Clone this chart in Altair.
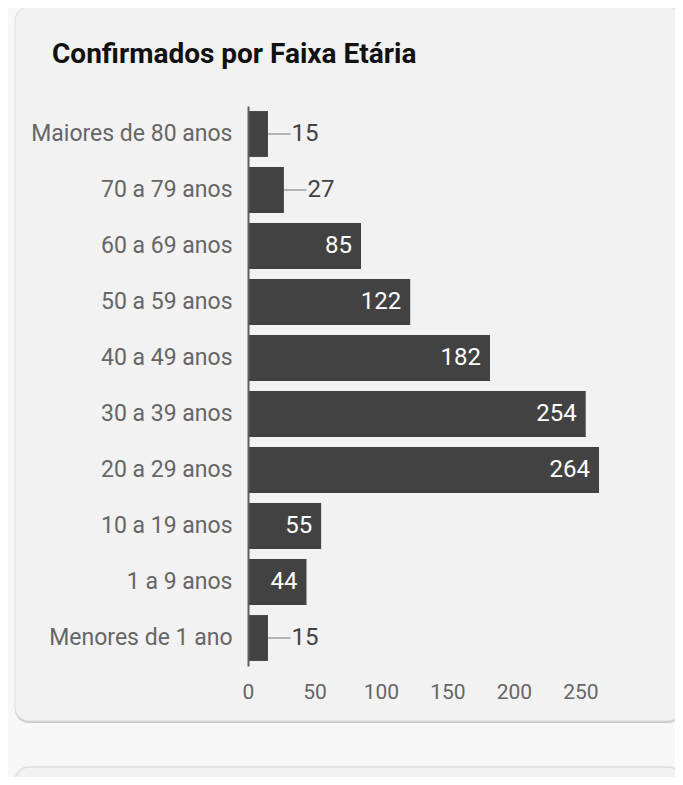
import altair as alt
import pandas as pd

categories = ["Maiores de 80 anos", "70 a 79 anos", "60 a 69 anos", "50 a 59 anos",
              "40 a 49 anos", "30 a 39 anos", "20 a 29 anos", "10 a 19 anos",
              "1 a 9 anos", "Menores de 1 ano"]
values = [15, 27, 85, 122, 182, 254, 264, 55, 44, 15]
x_ticks = [0, 50, 100, 150, 200, 250]
title_text = "Confirmados por Faixa Etária"

df = pd.DataFrame({"faixa": categories, "casos": values})
one = pd.DataFrame({"k": [0]})

FONT = "Roboto"
BAR = "#424242"

y_axis = alt.Axis(title=None, ticks=False, grid=False, domainColor="#5f5f5f",
                  domainWidth=2, labelPadding=16, labelFontSize=23, labelLimit=400,
                  labelColor="#666666", labelFont=FONT, zindex=1)
x_axis = alt.Axis(title=None, values=x_ticks, domain=False, ticks=False, grid=False,
                  labelPadding=15, labelFontSize=21, labelColor="#666666",
                  labelFont=FONT, labelFlush=False, zindex=1)

y_enc = alt.Y("faixa:N", sort=categories,
              scale=alt.Scale(paddingInner=0.18, paddingOuter=0.09), axis=y_axis)
x_enc = alt.X("casos:Q", scale=alt.Scale(domain=[0, 270], nice=False), axis=x_axis)

# decorative card background (pixel positions relative to plot area)
card_shadow = alt.Chart(one).mark_rect(fill="#c9c9c9", cornerRadius=14).encode(
    x=alt.value(-233), x2=alt.value(434), y=alt.value(-97), y2=alt.value(617))
card = alt.Chart(one).mark_rect(fill="#f2f2f2", stroke="#dddddd", strokeWidth=1,
                                cornerRadius=14).encode(
    x=alt.value(-233), x2=alt.value(434), y=alt.value(-99), y2=alt.value(615))
card2 = alt.Chart(one).mark_rect(fill="#f2f2f2", stroke="#dddddd", strokeWidth=1.5,
                                 cornerRadius=14).encode(
    x=alt.value(-233), x2=alt.value(434), y=alt.value(661), y2=alt.value(720))

title = alt.Chart(one).mark_text(text=title_text, font=FONT, fontSize=28,
                                 fontWeight="bold", color="#111111",
                                 align="left", baseline="alphabetic").encode(
    x=alt.value(-196), y=alt.value(-43))

base = alt.Chart(df)
bars = base.mark_bar(color=BAR).encode(x=x_enc, y=y_enc)

inside = base.transform_filter("datum.casos >= 40").mark_text(
    align="right", baseline="middle", dx=-9, color="white", font=FONT, fontSize=24
).encode(x="casos:Q", y=alt.Y("faixa:N", sort=categories), text="casos:Q")

lead = base.transform_filter("datum.casos < 40").transform_calculate(
    fim="datum.casos + 17"
).mark_rule(color="#9e9e9e", strokeWidth=1.5).encode(
    x="casos:Q", x2="fim:Q", y=alt.Y("faixa:N", sort=categories))

outside = base.transform_filter("datum.casos < 40").transform_calculate(
    fim="datum.casos + 17"
).mark_text(align="left", baseline="middle", dx=1, color=BAR, font=FONT,
            fontSize=24).encode(
    x="fim:Q", y=alt.Y("faixa:N", sort=categories), text="casos:Q")

chart = alt.layer(card_shadow, card, card2, title, bars, lead, inside, outside).properties(
    width=359, height=560,
    autosize=alt.AutoSizeParams(type="none"),
    padding={"left": 240, "top": 98, "right": 68, "bottom": 111},
    background="#f7f7f7",
).configure_view(stroke=None)

chart.save("out.html", embed_options={"renderer": "svg", "actions": False})
